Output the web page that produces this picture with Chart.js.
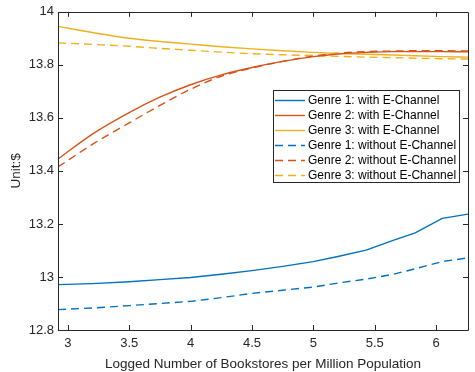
<!DOCTYPE html>
<html>
<head>
<meta charset="utf-8">
<script src="https://cdn.jsdelivr.net/npm/chart.js@4/dist/chart.umd.min.js"></script>
<style>
html, body { margin: 0; padding: 0; background: #fff; }
#wrap { width: 475px; height: 372px; position: relative; }
</style>
</head>
<body>
<div id="wrap"><canvas id="chart"></canvas></div>
<script>
// logged number of bookstores per million population
var X = [2.92, 3.2, 3.5, 3.75, 4.0, 4.25, 4.5, 4.75, 5.0, 5.2, 5.43, 5.65, 5.83, 6.05, 6.26];

var G1_WITH    = [12.971, 12.975, 12.982, 12.990, 12.998, 13.010, 13.024, 13.040, 13.058, 13.077, 13.101, 13.138, 13.166, 13.221, 13.237];
var G2_WITH    = [13.445, 13.539, 13.620, 13.678, 13.725, 13.762, 13.790, 13.813, 13.831, 13.841, 13.847, 13.850, 13.850, 13.850, 13.849];
var G3_WITH    = [13.945, 13.922, 13.900, 13.888, 13.878, 13.868, 13.860, 13.853, 13.847, 13.843, 13.840, 13.837, 13.834, 13.831, 13.829];
var G1_WITHOUT = [12.877, 12.883, 12.892, 12.900, 12.908, 12.922, 12.938, 12.950, 12.962, 12.977, 12.992, 13.010, 13.031, 13.058, 13.072];
var G2_WITHOUT = [13.415, 13.500, 13.581, 13.647, 13.708, 13.757, 13.788, 13.813, 13.833, 13.844, 13.850, 13.852, 13.853, 13.853, 13.852];
var G3_WITHOUT = [13.883, 13.877, 13.870, 13.862, 13.855, 13.848, 13.842, 13.838, 13.835, 13.832, 13.829, 13.827, 13.825, 13.823, 13.822];

var LABELS = [
  'Genre 1: with E-Channel',
  'Genre 2: with E-Channel',
  'Genre 3: with E-Channel',
  'Genre 1: without E-Channel',
  'Genre 2: without E-Channel',
  'Genre 3: without E-Channel'
];
var COLORS = ['#0072BD', '#D95319', '#EDB120'];
var AXIS = '#262626';
var FONT = '"Liberation Sans", Arial, sans-serif';

function pts(ys) {
  return ys.map(function(y, i) { return { x: X[i], y: y }; });
}

function series(i, ys, dashed) {
  return {
    label: LABELS[i],
    data: pts(ys),
    borderColor: COLORS[i % 3],
    backgroundColor: COLORS[i % 3],
    borderWidth: 1.4,
    borderDash: dashed ? [8, 5] : [],
    pointRadius: 0,
    fill: false,
    cubicInterpolationMode: (i % 3 == 0) ? 'default' : 'monotone',
    tension: 0
  };
}

function fmt(v) { return String(+v.toFixed(2)); }

// box around the axes with inward ticks on all four sides
var frame = {
  id: 'frame',
  afterDatasetsDraw: function(chart) {
    var c = chart.ctx, a = chart.chartArea;
    var sx = chart.scales.x, sy = chart.scales.y;
    c.save();
    c.strokeStyle = AXIS;
    c.lineWidth = 1;
    c.beginPath();
    c.rect(Math.round(a.left) + 0.5, Math.round(a.top) + 0.5, Math.round(a.right - a.left), Math.round(a.bottom - a.top));
    sx.ticks.forEach(function(t) {
      var px = Math.round(sx.getPixelForValue(t.value)) + 0.5;
      c.moveTo(px, a.bottom); c.lineTo(px, a.bottom - 5);
      c.moveTo(px, a.top); c.lineTo(px, a.top + 5);
    });
    sy.ticks.forEach(function(t) {
      var py = Math.round(sy.getPixelForValue(t.value)) + 0.5;
      c.moveTo(a.left, py); c.lineTo(a.left + 5, py);
      c.moveTo(a.right, py); c.lineTo(a.right - 5, py);
    });
    c.stroke();
    c.restore();
  }
};

// MATLAB-like boxed legend inside the axes
var boxLegend = {
  id: 'boxLegend',
  afterDraw: function(chart) {
    var c = chart.ctx, a = chart.chartArea;
    var x0 = Math.round(a.right) - 195, y0 = 90, w = 186, h = 92;
    c.save();
    c.fillStyle = '#fff';
    c.fillRect(x0, y0, w, h);
    c.strokeStyle = AXIS;
    c.lineWidth = 1;
    c.strokeRect(x0 + 0.5, y0 + 0.5, w, h);
    c.font = '12px ' + FONT;
    c.textBaseline = 'middle';
    c.textAlign = 'left';
    chart.data.datasets.forEach(function(ds, i) {
      var y = y0 + 10 + i * 15;
      c.strokeStyle = ds.borderColor;
      c.lineWidth = ds.borderWidth;
      c.setLineDash(ds.borderDash || []);
      c.beginPath();
      c.moveTo(x0 + 2, y + 0.5);
      c.lineTo(x0 + 32, y + 0.5);
      c.stroke();
      c.setLineDash([]);
      c.fillStyle = '#000';
      c.fillText(ds.label, x0 + 35, y + 1);
    });
    c.restore();
  }
};

var ctx = document.getElementById('chart');
var chart = new Chart(ctx, {
  type: 'line',
  data: {
    datasets: [
      series(0, G1_WITH, false),
      series(1, G2_WITH, false),
      series(2, G3_WITH, false),
      series(3, G1_WITHOUT, true),
      series(4, G2_WITHOUT, true),
      series(5, G3_WITHOUT, true)
    ]
  },
  options: {
    responsive: true,
    maintainAspectRatio: false,
    animation: false,
    layout: { padding: { left: 0, top: 5, right: 7, bottom: 0 } },
    plugins: {
      legend: { display: false },
      tooltip: { enabled: false }
    },
    scales: {
      x: {
        type: 'linear',
        min: 2.92,
        max: 6.26,
        grid: { display: false, drawTicks: false },
        border: { display: false },
        ticks: {
          stepSize: 0.5,
          includeBounds: false,
          autoSkip: false,
          maxRotation: 0,
          padding: 6,
          color: AXIS,
          font: { family: FONT, size: 13 },
          callback: fmt
        },
        title: {
          display: true,
          text: 'Logged Number of Bookstores per Million Population',
          color: AXIS,
          font: { family: FONT, size: 13.5 },
          padding: { top: -1, bottom: 0 }
        },
        afterFit: function(s) { s.height = 42; }
      },
      y: {
        min: 12.8,
        max: 14,
        grid: { display: false, drawTicks: false },
        border: { display: false },
        ticks: {
          stepSize: 0.2,
          includeBounds: false,
          autoSkip: false,
          padding: 4,
          color: AXIS,
          font: { family: FONT, size: 13 },
          callback: fmt
        },
        title: {
          display: true,
          text: 'Unit:$',
          color: AXIS,
          font: { family: FONT, size: 13.5 },
          padding: { top: 8, bottom: 0 }
        },
        afterFit: function(s) { s.width = 58; }
      }
    }
  },
  plugins: [frame, boxLegend]
});
</script>
</body>
</html>
